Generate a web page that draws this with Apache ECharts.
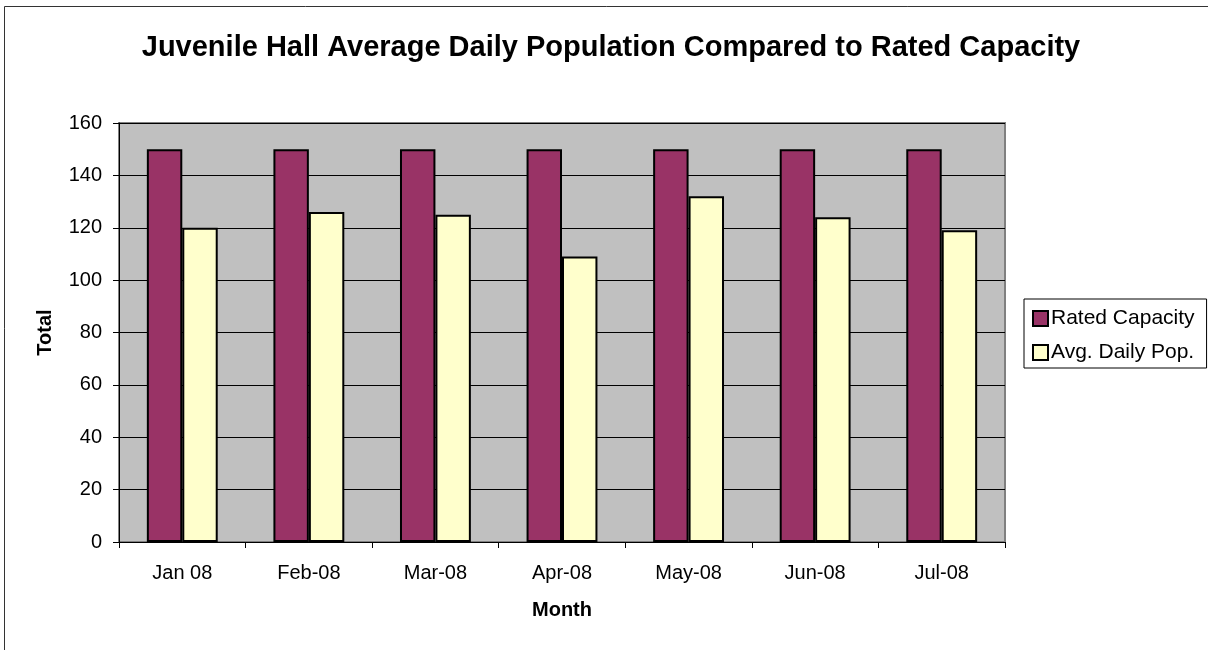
<!DOCTYPE html>
<html>
<head>
<meta charset="utf-8">
<script src="https://cdn.jsdelivr.net/npm/echarts@6/dist/echarts.min.js"></script>
<style>html,body{margin:0;padding:0;background:#fff}#c{width:1208px;height:650px}</style>
</head>
<body>
<div id="c"></div>
<script>
const categories = ['Jan 08', 'Feb-08', 'Mar-08', 'Apr-08', 'May-08', 'Jun-08', 'Jul-08'];
const ratedCapacity = [150, 150, 150, 150, 150, 150, 150];
const avgDailyPop = [120, 126, 125, 109, 132, 124, 119];
const seriesNames = ['Rated Capacity', 'Avg. Daily Pop.'];
const titleText = 'Juvenile Hall Average Daily Population Compared to Rated Capacity';

const FONT = '"Liberation Sans", Arial, sans-serif';
const chart = echarts.init(document.getElementById('c'));
chart.setOption({
  animation: false,
  backgroundColor: '#fff',
  textStyle: { fontFamily: FONT },
  graphic: [{
    type: 'rect', silent: true, z: -10,
    shape: { x: 4.5, y: 6.5, width: 1300, height: 700 },
    style: { fill: 'none', stroke: '#333', lineWidth: 1 }
  }],
  title: {
    text: titleText,
    left: 611, textAlign: 'center', top: 33, padding: 0,
    textStyle: { fontFamily: FONT, fontSize: 29, fontWeight: 'bold', color: '#000' }
  },
  legend: {
    orient: 'vertical',
    left: 1024, top: 299,
    padding: [9, 12, 5, 8],
    backgroundColor: '#fff',
    borderColor: '#000', borderWidth: 1, borderRadius: 0,
    icon: 'rect',
    itemWidth: 15, itemHeight: 15, itemGap: 13,
    textStyle: { fontFamily: FONT, fontSize: 21, color: '#000', lineHeight: 21, padding: [0, 0, 0, -2] },
    itemStyle: { borderColor: '#000', borderWidth: 2 },
    data: seriesNames
  },
  grid: {
    left: 119, top: 123, right: 203, bottom: 108,
    show: true, backgroundColor: '#C0C0C0', borderColor: '#808080', borderWidth: 2
  },
  xAxis: {
    type: 'category',
    data: categories,
    name: 'Month', nameLocation: 'middle', nameGap: 58,
    nameTextStyle: { fontFamily: FONT, fontSize: 20, fontWeight: 'bold', color: '#000' },
    axisLine: { lineStyle: { color: '#000', width: 1 } },
    axisTick: { show: true, length: 6, lineStyle: { color: '#000' } },
    axisLabel: { fontFamily: FONT, fontSize: 20, color: '#000', margin: 21 },
    splitLine: { show: false }
  },
  yAxis: {
    type: 'value', min: 0, max: 160, interval: 20,
    name: 'Total', nameLocation: 'middle', nameGap: 64, nameRotate: 90,
    nameTextStyle: { fontFamily: FONT, fontSize: 20, fontWeight: 'bold', color: '#000' },
    axisLine: { show: true, lineStyle: { color: '#000', width: 1 } },
    axisTick: { show: true, length: 6, lineStyle: { color: '#000' } },
    axisLabel: { fontFamily: FONT, fontSize: 20, color: '#000', margin: 17 },
    splitLine: { show: true, lineStyle: { color: '#000', width: 1 } }
  },
  series: [
    {
      name: seriesNames[0], type: 'bar', data: ratedCapacity,
      barGap: '0%', barCategoryGap: '44%',
      itemStyle: { color: '#993366', borderColor: '#000', borderWidth: 2 }
    },
    {
      name: seriesNames[1], type: 'bar', data: avgDailyPop,
      barGap: '0%', barCategoryGap: '44%',
      itemStyle: { color: '#FFFFCC', borderColor: '#000', borderWidth: 2 }
    }
  ]
});
</script>
</body>
</html>
